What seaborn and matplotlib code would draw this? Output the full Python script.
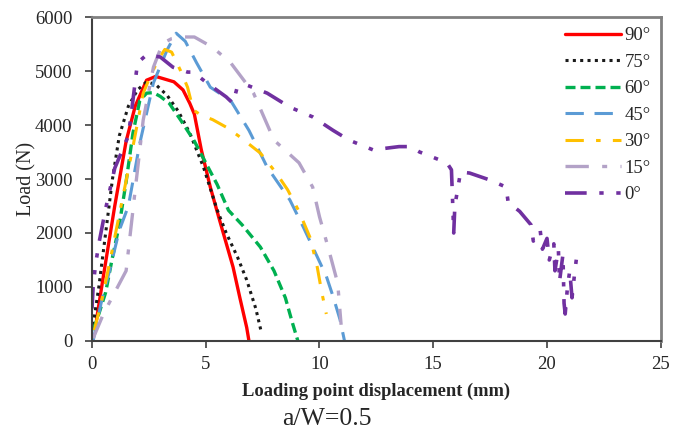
import matplotlib
matplotlib.use("Agg")
import matplotlib.pyplot as plt
import numpy as np
import pandas as pd
import seaborn as sns

# Load–displacement curves for each fibre orientation (a/W = 0.5)
x_90 = [0.2, 0.5, 1.0, 1.5, 1.9, 2.4, 2.8, 3.2, 3.6, 4.0, 4.3, 4.5, 4.8, 5.2, 5.6, 6.2, 6.5, 6.8, 6.9]
y_90 = [400, 1200, 2500, 3700, 4350, 4830, 4900, 4850, 4800, 4650, 4400, 4200, 3550, 2850, 2250, 1370, 800, 250, 0]

x_75 = [0.05, 0.3, 0.6, 0.9, 1.2, 1.6, 2.0, 2.4, 2.8, 3.3, 3.8, 4.3, 4.9, 5.5, 5.9, 6.4, 6.8, 7.2, 7.45]
y_75 = [300, 1000, 2000, 3000, 3800, 4350, 4650, 4800, 4750, 4550, 4250, 3850, 3220, 2430, 2000, 1550, 1130, 600, 150]

x_60 = [0.05, 0.3, 0.6, 0.9, 1.2, 1.5, 1.8, 2.1, 2.4, 2.7, 3.0, 3.4, 3.9, 4.5, 5.0, 5.5, 6.0, 6.6, 7.4, 8.0, 8.5, 8.8, 9.05]
y_60 = [200, 500, 900, 1550, 2150, 2950, 3850, 4450, 4590, 4600, 4530, 4400, 4090, 3700, 3300, 2900, 2420, 2150, 1740, 1300, 800, 350, 0]

x_45 = [0.05, 0.4, 0.8, 1.2, 1.6, 2.1, 2.7, 3.3, 3.7, 4.1, 4.6, 5.2, 6.1, 6.9, 7.7, 8.7, 9.3, 9.9, 10.3, 10.6, 10.9, 11.1]
y_45 = [0, 700, 1350, 2050, 2500, 3660, 4780, 5390, 5700, 5550, 5150, 4700, 4450, 3900, 3220, 2610, 2100, 1560, 1200, 820, 400, 0]

x_30 = [0.1, 0.4, 0.8, 1.3, 1.8, 2.25, 2.55, 2.9, 3.2, 3.5, 3.9, 4.2, 4.45, 4.8, 5.3, 5.9, 6.5, 7.4, 8.1, 8.6, 9.1, 9.6, 9.9, 10.1, 10.3]
y_30 = [200, 700, 1500, 2550, 3600, 4590, 4890, 5200, 5400, 5350, 5000, 4700, 4280, 4180, 4100, 3960, 3780, 3480, 3110, 2800, 2400, 1900, 1370, 900, 500]

x_15 = [0.05, 0.5, 1.0, 1.5, 1.9, 2.25, 2.7, 3.1, 3.5, 3.9, 4.5, 5.3, 6.1, 7.1, 8.0, 9.1, 9.7, 10.0, 10.4, 10.8, 10.95]
y_15 = [50, 500, 900, 1300, 2800, 4090, 5070, 5510, 5600, 5630, 5630, 5440, 5150, 4590, 3720, 3300, 2850, 2300, 1700, 1070, 300]

x_0 = [0.0, 0.05, 0.15, 0.3, 0.6, 1.0, 1.3, 1.6, 1.8, 2.0, 2.4, 3.0, 3.56, 4.2, 4.45, 5.05, 5.9, 6.2, 6.37, 6.8,
       7.7, 8.7, 9.7, 10.6, 11.3, 12.35, 13.5, 14.0, 14.4, 15.6, 15.8, 15.85, 15.9, 15.95, 16.2, 16.6, 17.5, 18.2,
       18.3, 18.5, 18.8, 19.0, 19.3, 19.4, 19.7, 19.8, 20.0, 20.1, 20.3, 20.35, 20.5, 20.55, 20.7, 20.75, 20.8,
       20.9, 21.0, 21.1, 21.2, 21.3]
y_0 = [600, 1000, 1400, 1800, 2450, 3200, 3500, 3800, 4460, 5150, 5300, 5260, 5070, 4980, 4980, 4780, 4520, 4400, 4680, 4740,
       4590, 4330, 4150, 3900, 3720, 3540, 3600, 3600, 3500, 3300, 3170, 2600, 2000, 2500, 3130, 3110, 2980, 2850,
       2550, 2500, 2400, 2300, 2150, 1850, 2050, 1700, 1900, 1500, 1800, 1300, 1700, 1100, 1600, 700, 500,
       1000, 1300, 800, 1200, 1550]

labels = ["90°", "75°", "60°", "45°", "30°", "15°", "0°"]
xs = [x_90, x_75, x_60, x_45, x_30, x_15, x_0]
ys = [y_90, y_75, y_60, y_45, y_30, y_15, y_0]

colors = ["#FF0000", "#1a1a1a", "#00B050", "#5B9BD5", "#FFC000", "#B3A2C7", "#7030A0"]
styles = ["-", (0, (1, 1.4)), (0, (3, 1.5)), (0, (6, 3.5)), (0, (6, 4, 1.5, 4)),
          (0, (7, 4, 1.5, 4)), (0, (6, 3.5, 1.2, 3.5, 1.2, 3.5))]
widths = [2.4, 2.2, 2.4, 2.2, 2.2, 2.4, 2.6]

frames = [pd.DataFrame({"disp": x, "load": y, "angle": lab}) for x, y, lab in zip(xs, ys, labels)]
df = pd.concat(frames, ignore_index=True)

sns.set_theme(style="white")
plt.rcParams["font.family"] = ["Liberation Serif", "DejaVu Serif"]

fig = plt.figure(figsize=(6.84, 4.33), dpi=100)
ax = fig.add_axes([0.1345, 0.2125, 0.8315, 0.7482])

for lab, col, ls, lw in zip(labels, colors, styles, widths):
    sns.lineplot(data=df[df["angle"] == lab], x="disp", y="load", sort=False, estimator=None,
                 color=col, linestyle=ls, linewidth=lw, label=lab, ax=ax)

ax.set_xlim(0, 25)
ax.set_ylim(0, 6000)
ax.set_xticks([0, 5, 10, 15, 20, 25])
ax.set_yticks([0, 1000, 2000, 3000, 4000, 5000, 6000])
ax.tick_params(axis="both", direction="out", length=5, width=1.2, color="#404040",
               labelsize=13.5, bottom=True, left=True)
ax.tick_params(axis="y", pad=9)
ax.tick_params(axis="x", pad=6)

for side in ["left", "bottom"]:
    ax.spines[side].set_color("#404040")
    ax.spines[side].set_linewidth(1.5)
for side in ["top", "right"]:
    ax.spines[side].set_color("#808080")
    ax.spines[side].set_linewidth(2.0)

ax.set_xlabel("Loading point displacement (mm)", fontsize=13.3, fontweight="bold", labelpad=7)
ax.set_ylabel("Load (N)", fontsize=14.5)
ax.yaxis.set_label_coords(-0.097, 0.5)

leg = ax.legend(loc="upper right", frameon=False, fontsize=13.5, handlelength=3.0,
                handletextpad=0.15, labelspacing=0.5, borderaxespad=0.15)

fig.text(0.478, 0.006, "a/W=0.5", ha="center", va="bottom", fontsize=18.5)

fig.savefig("out.png", dpi=100)
